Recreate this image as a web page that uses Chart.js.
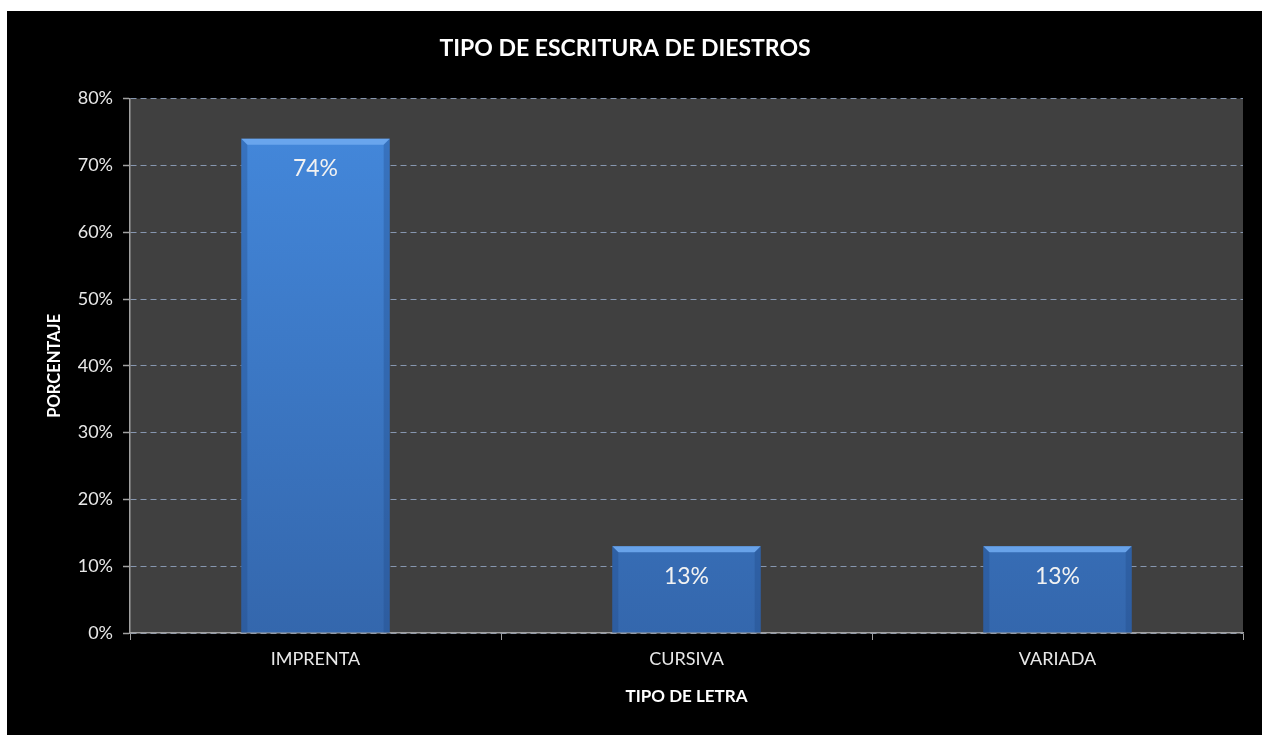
<!DOCTYPE html>
<html>
<head>
<meta charset="utf-8">
<script src="https://cdn.jsdelivr.net/npm/chart.js@4.4.1/dist/chart.umd.min.js"></script>
<style>
  html, body { margin: 0; padding: 0; background: #ffffff; }
  #wrap { position: absolute; left: 7px; top: 11px; width: 1255px; height: 724px; background: #000000; }
</style>
</head>
<body>
<div id="wrap"><canvas id="chart" width="1255" height="724"></canvas></div>
<script>
// Chart data
var categories = ['IMPRENTA', 'CURSIVA', 'VARIADA'];
var percentages = [74, 13, 13];
var yTicks = [0, 10, 20, 30, 40, 50, 60, 70, 80];

var FONT = 'Lato, "Open Sans", sans-serif';

// fill the plot area with dark gray
var plotBg = {
    id: 'plotBg',
    beforeDraw: function(chart) {
        var a = chart.chartArea, ctx = chart.ctx;
        ctx.save();
        ctx.fillStyle = '#404040';
        ctx.fillRect(a.left, a.top, a.right - a.left, a.bottom - a.top);
        ctx.restore();
    }
};

// bevel on bars + value labels inside top
var barDeco = {
    id: 'barDeco',
    afterDatasetsDraw: function(chart) {
        var ctx = chart.ctx;
        var meta = chart.getDatasetMeta(0);
        meta.data.forEach(function(bar, i) {
            var half = bar.width / 2;
            var l = bar.x - half, r = bar.x + half, t = bar.y, b = bar.base;
            var bev = 6;
            ctx.save();
            // top bevel
            ctx.fillStyle = 'rgba(110,168,238,0.9)';
            ctx.beginPath();
            ctx.moveTo(l, t); ctx.lineTo(r, t); ctx.lineTo(r - bev, t + bev); ctx.lineTo(l + bev, t + bev);
            ctx.closePath(); ctx.fill();
            // side bevels
            ctx.fillStyle = 'rgba(30,70,130,0.3)';
            ctx.beginPath();
            ctx.moveTo(l, t); ctx.lineTo(l + bev, t + bev); ctx.lineTo(l + bev, b); ctx.lineTo(l, b);
            ctx.closePath(); ctx.fill();
            ctx.beginPath();
            ctx.moveTo(r, t); ctx.lineTo(r - bev, t + bev); ctx.lineTo(r - bev, b); ctx.lineTo(r, b);
            ctx.closePath(); ctx.fill();
            // label
            ctx.fillStyle = '#f2f2f2';
            ctx.font = '23px ' + FONT;
            ctx.textAlign = 'center';
            ctx.textBaseline = 'middle';
            ctx.fillText(percentages[i] + '%', bar.x, t + 30);
            ctx.restore();
        });
    }
};

var ctx = document.getElementById('chart').getContext('2d');
new Chart(ctx, {
    type: 'bar',
    data: {
        labels: categories,
        datasets: [{
            data: percentages,
            backgroundColor: function(c) {
                var area = c.chart.chartArea;
                if (!area) return '#3f80d4';
                var g = c.chart.ctx.createLinearGradient(0, area.top, 0, area.bottom);
                g.addColorStop(0, '#4489dd');
                g.addColorStop(1, '#3467ad');
                return g;
            },
            borderWidth: 0,
            barPercentage: 0.4,
            categoryPercentage: 1
        }]
    },
    options: {
        responsive: false,
        animation: false,
        layout: { padding: { left: 0, right: 19, top: 0, bottom: 0 } },
        plugins: {
            legend: { display: false },
            tooltip: { enabled: false },
            title: {
                display: true,
                text: 'TIPO DE ESCRITURA DE DIESTROS',
                color: '#ffffff',
                font: { family: FONT, size: 23, weight: 'bold' },
                padding: { top: 24, bottom: 36 }
            }
        },
        scales: {
            x: {
                offset: true,
                afterFit: function(s) { s.height = 102; },
                grid: { drawOnChartArea: false, drawTicks: true, tickLength: 7, tickColor: '#a0a0a0', offset: true },
                border: { color: '#a0a0a0', width: 1.5 },
                ticks: { color: '#e8e8e8', font: { family: FONT, size: 18 }, padding: 8 },
                title: {
                    display: true, text: 'TIPO DE LETRA', color: '#ffffff',
                    font: { family: FONT, size: 17, weight: 'bold' },
                    padding: { top: 0, bottom: 28 }
                }
            },
            y: {
                min: 0, max: 80,
                afterFit: function(s) { s.width = 123; },
                afterBuildTicks: function(s) {
                    s.ticks = yTicks.map(function(v) { return { value: v }; });
                },
                grid: { color: '#8797b0', lineWidth: 1, tickLength: 7, tickColor: '#a0a0a0', tickWidth: 1.5 },
                border: { color: '#a0a0a0', width: 1.5, dash: [6, 4] },
                ticks: {
                    color: '#e8e8e8', font: { family: FONT, size: 18 }, padding: 10,
                    callback: function(v) { return v + '%'; }
                },
                title: {
                    display: true, text: 'PORCENTAJE', color: '#ffffff',
                    font: { family: FONT, size: 16.5, weight: 'bold' },
                    padding: { top: 38, bottom: 0 }
                }
            }
        }
    },
    plugins: [plotBg, barDeco]
});
</script>
</body>
</html>
